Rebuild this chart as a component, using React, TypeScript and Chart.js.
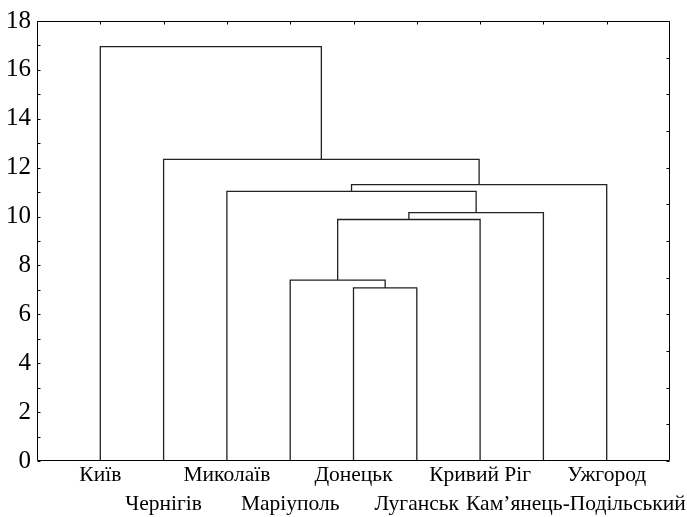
import React, { useEffect, useRef } from 'react';
import { Chart, registerables } from 'chart.js';

Chart.register(...registerables);

// Leaves of the dendrogram, in display order
const cities: string[] = [
  'Київ',
  'Чернігів',
  'Миколаїв',
  'Маріуполь',
  'Донецьк',
  'Луганськ',
  'Кривий Ріг',
  'Кам’янець-Подільський',
  'Ужгород',
];

// Linkage: clusters 0..8 are leaves, merge k creates cluster 9 + k
const mergeLeft: number[] = [4, 3, 10, 11, 2, 13, 1, 0];
const mergeRight: number[] = [5, 9, 6, 7, 12, 8, 14, 15];
const mergeHeight: number[] = [7.08, 7.4, 9.88, 10.16, 11.03, 11.31, 12.34, 16.95];

// Axis settings
const yMin = 0;
const yMax = 18;
const yStep = 2;
const yMinorStep = 1;
const rightTickStep = 1.5;

const FONT = '"Liberation Serif", "Times New Roman", serif';

export default function App() {
  const ref = useRef<HTMLCanvasElement>(null);

  useEffect(() => {
    if (!ref.current) return;
    const xs: number[] = cities.map((_, i) => i + 1);
    const hs: number[] = cities.map(() => 0);
    const datasets: any[] = mergeHeight.map((h, k) => {
      const a = mergeLeft[k];
      const b = mergeRight[k];
      const ds = {
        label: 'm' + k,
        data: [
          { x: xs[a], y: hs[a] },
          { x: xs[a], y: h },
          { x: xs[b], y: h },
          { x: xs[b], y: hs[b] },
        ],
        showLine: true,
        borderColor: '#222',
        borderWidth: 1.3,
        pointRadius: 0,
        pointHoverRadius: 0,
        fill: false,
        tension: 0,
      };
      xs.push((xs[a] + xs[b]) / 2);
      hs.push(h);
      return ds;
    });

    const framePlugin = {
      id: 'frameAndLabels',
      afterDatasetsDraw(chart: any) {
        const { ctx, chartArea, scales } = chart;
        const { left, right, top, bottom } = chartArea;
        const x = scales.x;
        const y = scales.y;
        ctx.save();
        ctx.strokeStyle = '#000';
        ctx.lineWidth = 1;
        const L = Math.round(left) + 0.5;
        const R = Math.round(right) - 0.5;
        const T = Math.round(top) + 0.5;
        const B = Math.round(bottom) - 0.5;
        ctx.beginPath();
        ctx.rect(L, T, R - L, B - T);
        ctx.stroke();
        // left ticks (major + minor), inward
        ctx.beginPath();
        for (let v = yMin; v <= yMax; v += yMinorStep) {
          const py = Math.round(y.getPixelForValue(v)) + 0.5;
          ctx.moveTo(L, py);
          ctx.lineTo(L + 3, py);
        }
        // right ticks, inward
        for (let v = yMin; v <= yMax + 1e-9; v += rightTickStep) {
          const py = Math.round(y.getPixelForValue(v)) + 0.5;
          ctx.moveTo(R, py);
          ctx.lineTo(R - 3, py);
        }
        // top ticks at leaves, inward
        cities.forEach((_, i) => {
          const px = Math.round(x.getPixelForValue(i + 1)) + 0.5;
          ctx.moveTo(px, T);
          ctx.lineTo(px, T + 3);
        });
        ctx.stroke();

        // category labels, two staggered rows
        ctx.font = '21.5px ' + FONT;
        ctx.fillStyle = '#000';
        ctx.textAlign = 'left';
        ctx.textBaseline = 'alphabetic';
        const rowY = [bottom + 20, bottom + 49];
        const lastRight = [-Infinity, -Infinity];
        const gap = 7;
        cities.forEach((name, i) => {
          const row = i % 2;
          const w = ctx.measureText(name).width;
          const cx = x.getPixelForValue(i + 1);
          const lx = Math.max(cx - w / 2, lastRight[row] + gap);
          ctx.fillText(name, lx, rowY[row]);
          lastRight[row] = lx + w;
        });
        ctx.restore();
      },
    };

    const chart = new Chart(ref.current, {
      type: 'scatter',
      data: { datasets },
      options: {
        animation: false,
        responsive: false,
        events: [],
        layout: { padding: { left: 0, top: 18, right: 17, bottom: 0 } },
        plugins: {
          legend: { display: false },
          tooltip: { enabled: false },
          title: { display: false },
        },
        scales: {
          x: {
            type: 'linear',
            min: 0,
            max: cities.length + 1,
            display: true,
            grid: { display: false, drawTicks: false },
            border: { display: false },
            ticks: { display: false },
            afterFit: (s: any) => {
              s.height = 56;
            },
          },
          y: {
            type: 'linear',
            min: yMin,
            max: yMax,
            grid: { display: false, drawTicks: false },
            border: { display: false },
            ticks: {
              stepSize: yStep,
              padding: 6,
              color: '#000',
              font: { family: FONT, size: 25 },
            },
            afterFit: (s: any) => {
              s.width = 37;
            },
          },
        },
      },
      plugins: [framePlugin],
    } as any);

    return () => chart.destroy();
  }, []);

  return (
    <div style={{ position: 'fixed', left: 0, top: 0, width: 687, height: 517, background: '#fff' }}>
      <canvas ref={ref} width={687} height={517} style={{ display: 'block' }} />
    </div>
  );
}
